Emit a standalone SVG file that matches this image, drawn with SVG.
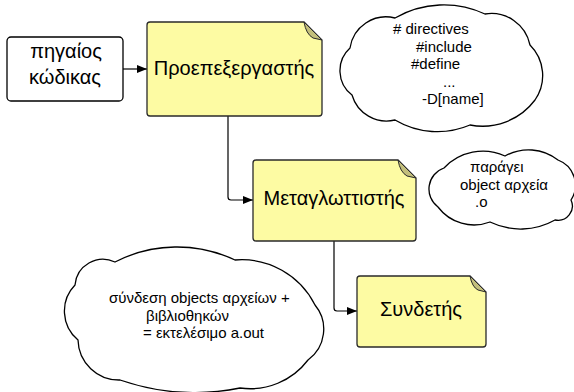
<svg xmlns="http://www.w3.org/2000/svg" width="574" height="392" viewBox="0 0 574 392">
<defs>
<style>
.t{font-family:"Liberation Sans",Arial,sans-serif;fill:#000}
.big{font-size:20px}
.small{font-size:15px}
.note{fill:#fdfba3;stroke:#2a2a2a;stroke-width:1.3}
.fold{fill:#c3bf7c;stroke:#2a2a2a;stroke-width:1}
.cloud{fill:#fff;stroke:#000;stroke-width:1.3}
.box{fill:#fff;stroke:#000;stroke-width:1.3}
.conn{fill:none;stroke:#000;stroke-width:1.2}
</style>
<marker id="arr" viewBox="0 0 10 10" refX="10" refY="5" markerWidth="10" markerHeight="10" markerUnits="userSpaceOnUse" orient="auto">
<path d="M0,1 L10,5 L0,9 Z" fill="#000"/>
</marker>
</defs>
<rect width="574" height="392" fill="#fff"/>

<g id="connectors">
<path class="conn" d="M123,69 H147" marker-end="url(#arr)"/>
<path class="conn" d="M228,116 V197 Q228,200 231,200 H253" marker-end="url(#arr)"/>
<path class="conn" d="M334,241 V308 Q334,311 337,311 H357" marker-end="url(#arr)"/>
</g>

<g id="source">
<rect class="box" x="7" y="37" width="116" height="64" rx="4"/>
<text class="t big" x="66" y="58" text-anchor="middle">πηγαίος</text>
<text class="t big" x="65" y="84" text-anchor="middle">κώδικας</text>
</g>

<g id="preprocessor">
<path class="note" d="M150,22 H304 L322,40 V113 Q322,116 319,116 H150 Q147,116 147,113 V25 Q147,22 150,22 Z"/>
<path class="fold" d="M304,22 L322,40 L313,38 Q306,34 304,22 Z"/>
<text class="t big" x="234" y="75" text-anchor="middle">Προεπεξεργαστής</text>
</g>

<g id="compiler">
<path class="note" d="M256,160 H398 L416,178 V238 Q416,241 413,241 H256 Q253,241 253,238 V163 Q253,160 256,160 Z"/>
<path class="fold" d="M398,160 L416,178 L407,176 Q400,172 398,160 Z"/>
<text class="t big" x="334" y="205" text-anchor="middle">Μεταγλωττιστής</text>
</g>

<g id="linker">
<path class="note" d="M360,276 H470 L486,292 V344 Q486,347 483,347 H360 Q357,347 357,344 V279 Q357,276 360,276 Z"/>
<path class="fold" d="M470,276 L486,292 L478,290 Q472,287 470,276 Z"/>
<text class="t big" x="421" y="316" text-anchor="middle">Συνδετής</text>
</g>

<g id="cloud-directives">
<path class="cloud" d="M352,95 A30.6,30.6 0 0 1 350,48 A36.4,36.4 0 0 1 395,18 A97.5,97.5 0 0 1 485,14 A39.4,39.4 0 0 1 530,45 A43,43 0 0 1 535,100 A65.6,65.6 0 0 1 470,125 A83,83 0 0 1 395,120 A36,36 0 0 1 352,95 Z"/>
<text class="t small" x="393" y="34"># directives</text>
<text class="t small" x="416" y="52">#include</text>
<text class="t small" x="411" y="69">#define</text>
<text class="t small" x="443" y="87">...</text>
<text class="t small" x="422" y="104">-D[name]</text>
</g>

<g id="cloud-objects">
<path class="cloud" d="M438,207 A22.3,22.3 0 0 1 444,168 A53.4,53.4 0 0 1 505,156 A48,48 0 0 1 558,160 A27,27 0 0 1 571,200 A14.3,14.3 0 0 1 555,220 A70,70 0 0 1 490,222 A45,45 0 0 1 438,207 Z"/>
<text class="t small" x="470" y="172">παράγει</text>
<text class="t small" x="460" y="190">object αρχεία</text>
<text class="t small" x="475" y="207">.o</text>
</g>

<g id="cloud-linking">
<path class="cloud" d="M78,340 A37.5,37.5 0 0 1 75,285 A28,28 0 0 1 115,262 A135.6,135.6 0 0 1 235,260 A82,82 0 0 1 315,305 A38,38 0 0 1 308,360 A72.5,72.5 0 0 1 240,388 A229,229 0 0 1 120,380 A41,41 0 0 1 78,340 Z"/>
<text class="t small" x="109" y="303">σύνδεση objects αρχείων +</text>
<text class="t small" x="146" y="321">βιβλιοθηκών</text>
<text class="t small" x="143" y="338">= εκτελέσιμο a.out</text>
</g>
</svg>
